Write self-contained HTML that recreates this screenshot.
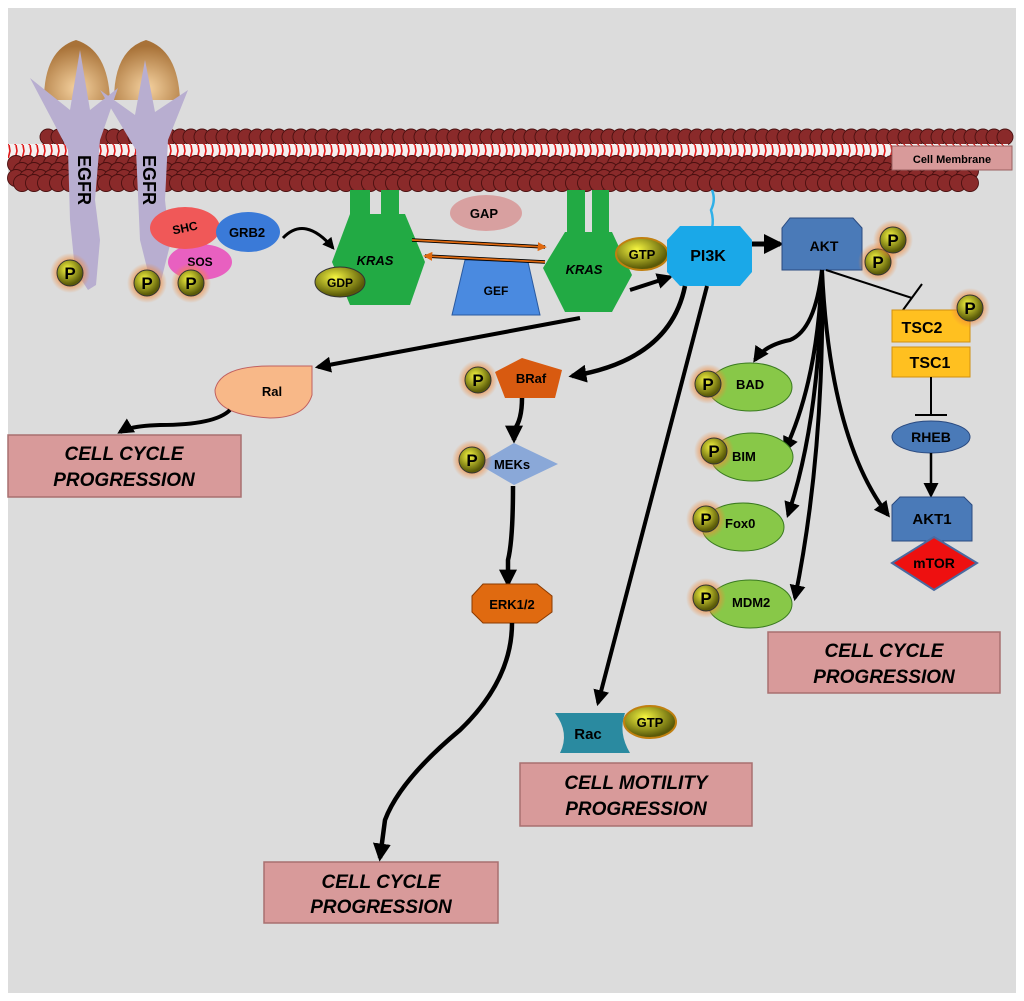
<!DOCTYPE html>
<html><head><meta charset="utf-8"><style>
html,body{margin:0;padding:0;background:#fff}
svg{display:block}
text{font-family:"Liberation Sans",Arial,sans-serif;font-weight:bold}
</style></head><body>
<svg id="s" width="1024" height="1001" viewBox="0 0 1024 1001" xmlns="http://www.w3.org/2000/svg">
<defs>
<pattern id="tails" x="0" y="145" width="7" height="14" patternUnits="userSpaceOnUse">
<rect width="7" height="14" fill="#f4f0f0"/>
<path d="M2 0 L3 6 L1 14" stroke="#e01818" stroke-width="1.6" fill="none"/>
</pattern>
<radialGradient id="pg" cx="40%" cy="35%" r="60%"><stop offset="0" stop-color="#f6f640"/><stop offset="1" stop-color="#5a5a08"/></radialGradient>
<radialGradient id="glow"><stop offset="0.6" stop-color="#f08a3a" stop-opacity="0.7"/><stop offset="1" stop-color="#f08a3a" stop-opacity="0"/></radialGradient>
<radialGradient id="dome" cx="50%" cy="80%" r="70%"><stop offset="0" stop-color="#f5d2a0"/><stop offset="1" stop-color="#a87238"/></radialGradient>
<marker id="ah" viewBox="0 0 10 10" refX="8" refY="5" markerWidth="4" markerHeight="4" orient="auto"><path d="M0 0 L10 5 L0 10 z" fill="#000"/></marker>
<marker id="ahs" viewBox="0 0 10 10" refX="8" refY="5" markerWidth="6" markerHeight="6" orient="auto"><path d="M0 0 L10 5 L0 10 z" fill="#000"/></marker>
<marker id="aho" viewBox="0 0 10 10" refX="8" refY="5" markerWidth="5" markerHeight="5" orient="auto"><path d="M0 0 L10 5 L0 10 z" fill="#e06a10"/></marker>
<g id="P"><circle r="20" fill="url(#glow)"/><circle r="13" fill="url(#pg)" stroke="#333" stroke-width="1"/><text y="6" text-anchor="middle" font-size="17" fill="#000">P</text></g>
</defs>
<rect x="8" y="8" width="1008" height="985" fill="#dcdcdc"/>
<!-- membrane -->
<g id="memtop"></g>
<rect x="8" y="144" width="1000" height="14" fill="url(#tails)"/>
<g id="membot"></g>
<rect x="892" y="146" width="120" height="24" fill="#d89a9a" stroke="#9a6060"/>
<text x="952" y="163" font-size="11" text-anchor="middle">Cell Membrane</text>
<!-- EGFR -->
<path d="M44 100 Q44 50 76 40 Q108 50 110 100Z" fill="url(#dome)"/>
<path d="M114 100 Q114 50 146 40 Q178 50 180 100Z" fill="url(#dome)"/>
<path d="M30 78 L70 110 L80 50 L90 110 L118 88 L100 140 L95 200 L100 240 L96 285 L88 290 L75 270 L70 220 L68 150 Z" fill="#b8aed0"/>
<path d="M100 90 L135 115 L145 60 L155 112 L188 90 L168 140 L165 200 L170 245 L160 285 L150 280 L140 240 L136 150 Z" fill="#b8aed0"/>
<text transform="translate(78,155) rotate(90)" font-size="18">EGFR</text>
<text transform="translate(143,155) rotate(90)" font-size="18">EGFR</text>
<ellipse cx="200" cy="262" rx="32" ry="18" fill="#e860c0"/>
<text x="200" y="266" font-size="12" text-anchor="middle">SOS</text>
<ellipse cx="185" cy="228" rx="35" ry="21" fill="#f05858"/>
<text x="185" y="232" font-size="12" text-anchor="middle" transform="rotate(-12 185 228)">SHC</text>
<ellipse cx="248" cy="232" rx="32" ry="20" fill="#3a7ad8"/>
<text x="247" y="237" font-size="13" text-anchor="middle">GRB2</text>
<use href="#P" x="70" y="273"/><use href="#P" x="147" y="283"/><use href="#P" x="191" y="283"/>
<path d="M283 238 Q305 215 333 248" stroke="#000" stroke-width="3" fill="none" marker-end="url(#ah)"/>
<!-- KRAS1 -->
<rect x="350" y="190" width="20" height="40" fill="#22aa44"/><rect x="381" y="190" width="18" height="40" fill="#22aa44"/>
<polygon points="350,214 405,214 425,262 410,305 350,305 332,262" fill="#22aa44"/>
<text x="375" y="265" font-size="13" font-style="italic" text-anchor="middle">KRAS</text>
<ellipse cx="340" cy="282" rx="25" ry="15" fill="url(#pg)" stroke="#333"/>
<text x="340" y="287" font-size="12" text-anchor="middle">GDP</text>
<ellipse cx="486" cy="213" rx="36" ry="18" fill="#d8a0a0"/>
<text x="484" y="218" font-size="13" text-anchor="middle" font-weight="normal">GAP</text>
<polygon points="465,260 528,262 540,315 452,315" fill="#4a8ae0" stroke="#2a5aa0"/>
<text x="496" y="295" font-size="12" text-anchor="middle">GEF</text>
<line x1="412" y1="240" x2="545" y2="247" stroke="#000" stroke-width="3.5"/><line x1="412" y1="240" x2="545" y2="247" stroke="#e06a10" stroke-width="1.8" marker-end="url(#aho)"/>
<line x1="545" y1="262" x2="425" y2="256" stroke="#000" stroke-width="3.5"/><line x1="545" y1="262" x2="425" y2="256" stroke="#e06a10" stroke-width="1.8" marker-end="url(#aho)"/>
<!-- KRAS2 -->
<rect x="567" y="190" width="18" height="42" fill="#22aa44"/><rect x="592" y="190" width="17" height="42" fill="#22aa44"/>
<polygon points="565,232 612,232 632,275 612,312 565,312 543,268" fill="#22aa44"/>
<text x="584" y="274" font-size="13" font-style="italic" text-anchor="middle">KRAS</text>
<ellipse cx="642" cy="254" rx="26" ry="16" fill="url(#pg)" stroke="#c08010" stroke-width="2"/>
<text x="642" y="259" font-size="13" text-anchor="middle" font-weight="normal">GTP</text>
<line x1="630" y1="290" x2="670" y2="277" stroke="#000" stroke-width="4" marker-end="url(#ah)"/>
<!-- PI3K -->
<path d="M712 190 Q716 200 711 210 Q714 220 712 228" stroke="#30b0e8" stroke-width="2.5" fill="none"/>
<polygon points="680,226 740,226 752,240 752,272 740,286 680,286 667,272 667,240" fill="#1aa8e8"/>
<text x="708" y="261" font-size="16" text-anchor="middle">PI3K</text>
<line x1="752" y1="244" x2="780" y2="244" stroke="#000" stroke-width="5" marker-end="url(#ah)"/>
<!-- AKT -->
<polygon points="790,218 853,218 862,228 862,270 782,270 782,228" fill="#4a7ab8" stroke="#2a4a80"/>
<text x="824" y="251" font-size="14" text-anchor="middle" font-weight="normal">AKT</text>
<use href="#P" x="878" y="262"/><use href="#P" x="893" y="240"/>
<line x1="826" y1="270" x2="912" y2="298" stroke="#000" stroke-width="2"/>
<line x1="903" y1="310" x2="922" y2="284" stroke="#000" stroke-width="2"/>
<rect x="892" y="310" width="78" height="32" fill="#ffc020" stroke="#d09010"/>
<text x="922" y="333" font-size="16" text-anchor="middle">TSC2</text>
<use href="#P" x="970" y="308"/>
<rect x="892" y="347" width="78" height="30" fill="#ffc020" stroke="#d09010"/>
<text x="930" y="368" font-size="16" text-anchor="middle">TSC1</text>
<line x1="931" y1="377" x2="931" y2="415" stroke="#000" stroke-width="2"/><line x1="915" y1="415" x2="947" y2="415" stroke="#000" stroke-width="2"/>
<ellipse cx="931" cy="437" rx="39" ry="16" fill="#4a7ab8" stroke="#2a4a80"/>
<text x="931" y="442" font-size="14" text-anchor="middle">RHEB</text>
<line x1="931" y1="453" x2="931" y2="495" stroke="#000" stroke-width="2.5" marker-end="url(#ahs)"/>
<polygon points="900,497 964,497 972,505 972,541 892,541 892,505" fill="#4a7ab8" stroke="#2a4a80"/>
<text x="932" y="524" font-size="15" text-anchor="middle">AKT1</text>
<polygon points="934,537 977,563 934,590 892,563" fill="#ee1010" stroke="#4a6aa0" stroke-width="2"/>
<text x="934" y="568" font-size="14" text-anchor="middle">mTOR</text>
<!-- AKT targets -->
<g stroke="#000" stroke-width="4" fill="none" marker-end="url(#ah)">
<path d="M822 270 Q815 330 790 340 Q765 345 755 360"/>
<path d="M822 270 Q818 380 785 450"/>
<path d="M822 270 Q820 420 788 515"/>
<path d="M822 270 Q825 450 795 598"/>
<path d="M822 270 Q830 440 888 515"/>
</g>
<g fill="#88c848" stroke="#3a7a20">
<ellipse cx="750" cy="387" rx="42" ry="24"/><ellipse cx="752" cy="457" rx="41" ry="24"/><ellipse cx="743" cy="527" rx="41" ry="24"/><ellipse cx="750" cy="604" rx="42" ry="24"/>
</g>
<g font-size="13" font-weight="normal"><text x="736" y="389">BAD</text><text x="732" y="461">BIM</text><text x="725" y="528">Fox0</text><text x="732" y="607">MDM2</text></g>
<use href="#P" x="708" y="384"/><use href="#P" x="714" y="451"/><use href="#P" x="706" y="519"/><use href="#P" x="706" y="598"/>
<!-- boxes -->
<g fill="#d89a9a" stroke="#a87070" stroke-width="1.5">
<rect x="768" y="632" width="232" height="61"/><rect x="8" y="435" width="233" height="62"/><rect x="264" y="862" width="234" height="61"/><rect x="520" y="763" width="232" height="63"/>
</g>
<g font-size="19" font-style="italic" text-anchor="middle">
<text x="884" y="657">CELL CYCLE</text><text x="884" y="683">PROGRESSION</text>
<text x="124" y="460">CELL CYCLE</text><text x="124" y="486">PROGRESSION</text>
<text x="381" y="888">CELL CYCLE</text><text x="381" y="913">PROGRESSION</text>
<text x="636" y="789">CELL MOTILITY</text><text x="636" y="815">PROGRESSION</text>
</g>
<!-- Ral -->
<line x1="580" y1="318" x2="318" y2="367" stroke="#000" stroke-width="4" marker-end="url(#ah)"/>
<path d="M312 366 L312 395 Q305 418 270 418 Q215 415 215 390 Q220 366 270 366 Z" fill="#f8b888" stroke="#c06060"/>
<text x="272" y="396" font-size="13" text-anchor="middle" font-weight="normal">Ral</text>
<path d="M230 410 Q215 425 160 425 Q130 426 120 432" stroke="#000" stroke-width="4" fill="none" marker-end="url(#ah)"/>
<!-- BRaf chain -->
<path d="M685 286 Q670 360 572 376" stroke="#000" stroke-width="4.5" fill="none" marker-end="url(#ah)"/>
<polygon points="522,358 562,370 555,398 505,398 495,372" fill="#d85a10"/>
<text x="531" y="383" font-size="13" text-anchor="middle" font-weight="normal">BRaf</text>
<use href="#P" x="478" y="380"/>
<path d="M522 398 Q522 420 514 430 L514 440" stroke="#000" stroke-width="4.5" fill="none" marker-end="url(#ah)"/>
<polygon points="514,443 558,464 514,485 478,464" fill="#8aa8d8"/>
<text x="512" y="469" font-size="13" text-anchor="middle" font-weight="normal">MEKs</text>
<use href="#P" x="472" y="460"/>
<path d="M513 486 Q513 540 508 560 L508 584" stroke="#000" stroke-width="4.5" fill="none" marker-end="url(#ah)"/>
<polygon points="483,584 537,584 552,596 552,612 537,623 483,623 472,612 472,596" fill="#e06a10" stroke="#8a3a00"/>
<text x="512" y="609" font-size="13" text-anchor="middle" font-weight="normal">ERK1/2</text>
<path d="M512 623 Q512 680 460 730 Q400 780 385 820 L380 858" stroke="#000" stroke-width="4.5" fill="none" marker-end="url(#ah)"/>
<!-- Rac -->
<line x1="707" y1="286" x2="598" y2="703" stroke="#000" stroke-width="4" marker-end="url(#ah)"/>
<path d="M555 713 L625 713 Q618 733 630 753 L560 753 Q570 733 555 713Z" fill="#2a8aa0"/>
<text x="588" y="739" font-size="15" text-anchor="middle">Rac</text>
<ellipse cx="650" cy="722" rx="26" ry="16" fill="url(#pg)" stroke="#c08010" stroke-width="2"/>
<text x="650" y="727" font-size="13" text-anchor="middle" font-weight="normal">GTP</text>
</svg>
<script>
(function(){
var NS="http://www.w3.org/2000/svg";
function c(g,x,y,r){var e=document.createElementNS(NS,"circle");e.setAttribute("cx",x);e.setAttribute("cy",y);e.setAttribute("r",r);e.setAttribute("fill","#8a2a2a");e.setAttribute("stroke","#4a1010");e.setAttribute("stroke-width","0.9");g.appendChild(e);}
var t=document.getElementById("memtop");
for(var x=48;x<=1008;x+=11)c(t,x,137,8);
var b=document.getElementById("membot");
var rows=[164,171,178,183];
for(var i=0;i<rows.length;i++){for(var x=16+(i%2)*6;x<=974;x+=12)c(b,x,rows[i],8.5);}
})();
</script>
</body></html>
